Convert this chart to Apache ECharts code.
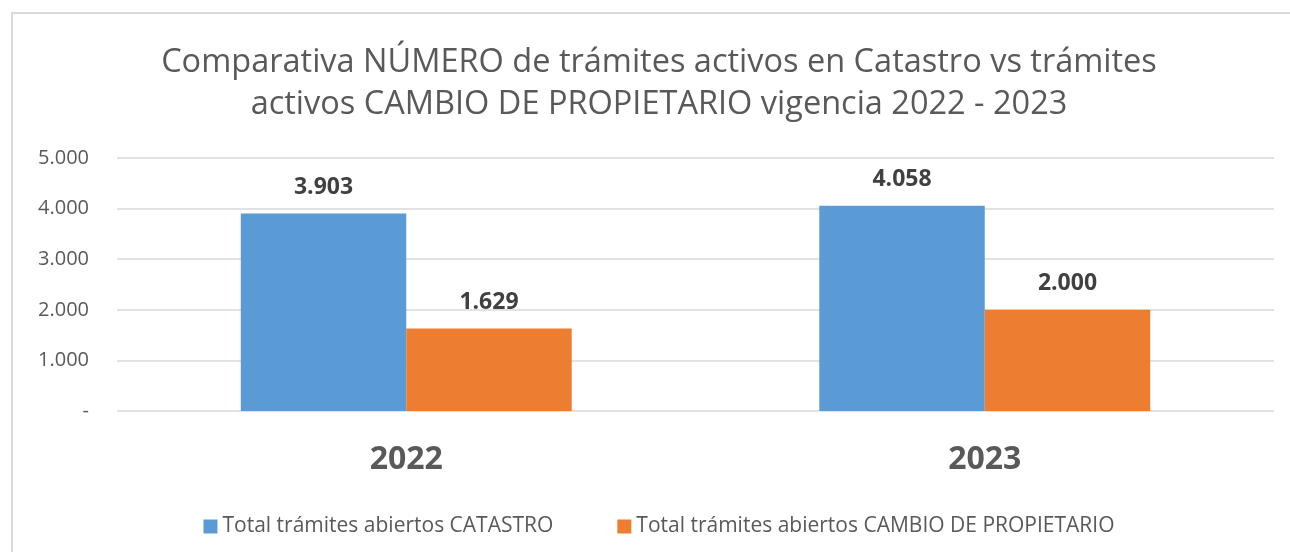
<!DOCTYPE html>
<html>
<head>
<meta charset="utf-8">
<script src="https://cdn.jsdelivr.net/npm/echarts@6/dist/echarts.min.js"></script>
<style>
  html, body { margin: 0; padding: 0; background: #fff; overflow: hidden; }
  /* el grafico original sigue mas alla del borde derecho */
  #chart { width: 1318px; height: 552px; }
</style>
</head>
<body>
<div id="chart"></div>
<script>
const years = ['2022', '2023'];
const catastro = [3903, 4058];
const cambioPropietario = [1629, 2000];
const seriesNames = ['Total trámites abiertos CATASTRO', 'Total trámites abiertos CAMBIO DE PROPIETARIO'];
const titleText = 'Comparativa NÚMERO de trámites activos en Catastro vs trámites\nactivos CAMBIO DE PROPIETARIO vigencia 2022 - 2023';

// miles con punto, cero como guion
function fmt(v) {
  if (v === 0) return '-';
  return String(v).replace(/\B(?=(\d{3})+(?!\d))/g, '.');
}

const font = 'Open Sans';
const myChart = echarts.init(document.getElementById('chart'));
const labelStyle = {
  show: true,
  position: 'top',
  distance: 15,
  fontFamily: font,
  fontWeight: 'bold',
  fontSize: 23,
  color: '#404040',
  formatter: p => fmt(p.value)
};

const option = {
  animation: false,
  graphic: [{
    type: 'rect',
    shape: { x: 12, y: 13, width: 1400, height: 600 },
    style: { fill: 'none', stroke: '#d9d9d9', lineWidth: 2 },
    silent: true
  }],
  title: {
    text: titleText,
    left: 'center',
    top: 37,
    textStyle: {
      fontFamily: font,
      fontWeight: 'normal',
      fontSize: 32.5,
      lineHeight: 42,
      color: '#595959'
    }
  },
  legend: {
    data: seriesNames,
    left: 'center',
    top: 511,
    icon: 'rect',
    itemWidth: 14,
    itemHeight: 14,
    itemGap: 64,
    textStyle: { fontFamily: font, fontSize: 21, color: '#595959' }
  },
  grid: { left: 117, right: 44, top: 158, bottom: 141 },
  xAxis: {
    type: 'category',
    data: years,
    axisLine: { show: false },
    axisTick: { show: false },
    axisLabel: {
      margin: 33,
      fontFamily: font,
      fontWeight: 'bold',
      fontSize: 32,
      color: '#595959'
    }
  },
  yAxis: {
    type: 'value',
    min: 0,
    max: 5000,
    interval: 1000,
    axisLine: { show: false },
    axisTick: { show: false },
    splitLine: { lineStyle: { color: '#d9d9d9', width: 1.5 } },
    axisLabel: {
      margin: 28,
      fontFamily: font,
      fontSize: 20,
      color: '#595959',
      formatter: fmt
    }
  },
  series: [
    {
      name: seriesNames[0],
      type: 'bar',
      data: catastro,
      barGap: 0,
      barCategoryGap: '42.8%',
      itemStyle: { color: '#5b9bd5' },
      label: labelStyle
    },
    {
      name: seriesNames[1],
      type: 'bar',
      data: cambioPropietario,
      itemStyle: { color: '#ed7d31' },
      label: labelStyle
    }
  ]
};
myChart.setOption(option);
</script>
</body>
</html>
